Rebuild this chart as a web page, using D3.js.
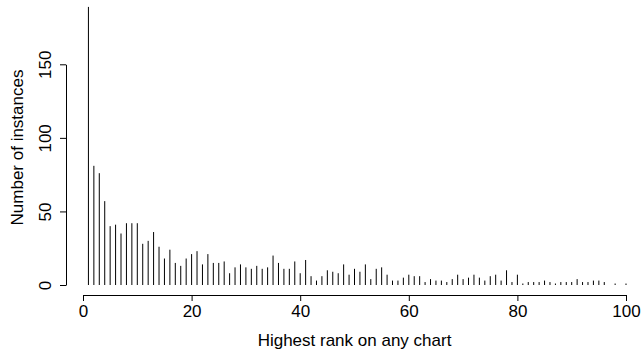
<!DOCTYPE html>
<html>
<head>
<meta charset="utf-8">
<script src="https://cdn.jsdelivr.net/npm/d3@7"></script>
<style>
  html, body { margin: 0; padding: 0; background: #fff; }
  svg { display: block; font-family: "Liberation Sans", Arial, sans-serif; }
</style>
</head>
<body>
<svg id="chart" width="641" height="353"></svg>
<script>
// ranks 1..100
const ranks = d3.range(1, 101);
const counts = [
  189, 81, 76, 57, 40, 41, 35, 42, 42, 42,
  28, 30, 36, 26, 18, 24, 15, 13, 18, 21,
  23, 14, 21, 15, 15, 16, 8, 12, 14, 12,
  11, 13, 11, 12, 20, 15, 11, 11, 16, 8,
  17, 6, 3, 6, 10, 9, 8, 14, 7, 11,
  9, 14, 4, 11, 12, 7, 3, 3, 5, 7,
  6, 6, 2, 4, 3, 3, 2, 4, 7, 4,
  5, 7, 5, 3, 6, 7, 3, 10, 2, 7,
  1, 2, 2, 2, 3, 2, 1, 2, 2, 2,
  4, 2, 2, 3, 3, 2, 0, 1, 0, 1
];
const xTicks = [0, 20, 40, 60, 80, 100];
const yTicks = [0, 50, 100, 150];
const xTitle = "Highest rank on any chart";
const yTitle = "Number of instances";

const svg = d3.select("#chart");
const fontSize = 17;

const x = d3.scaleLinear().domain([0, 100]).range([83, 626]);
const y = d3.scaleLinear().domain([0, 150]).range([285, 64.3]);

const xAxisY = 295;
const yAxisX = 66;

// bars (type = "h")
svg.append("g")
  .selectAll("line")
  .data(ranks.map((r, i) => ({ r, v: counts[i] })).filter(d => d.v > 0))
  .join("line")
  .attr("x1", d => x(d.r)).attr("x2", d => x(d.r))
  .attr("y1", y(0)).attr("y2", d => y(d.v))
  .attr("stroke", "#000").attr("stroke-width", 1);

// x axis
const gx = svg.append("g")
  .attr("transform", `translate(0,${xAxisY})`)
  .call(d3.axisBottom(x).tickValues(xTicks).tickSize(6).tickSizeOuter(0).tickPadding(4).tickFormat(d3.format("d")));
gx.selectAll("path, line").attr("stroke", "#000");
gx.selectAll("text").attr("font-size", fontSize).attr("fill", "#000")
  .attr("font-family", "Liberation Sans, Arial, sans-serif");

// y axis
const gy = svg.append("g")
  .attr("transform", `translate(${yAxisX},0)`)
  .call(d3.axisLeft(y).tickValues(yTicks).tickSize(6).tickSizeOuter(0).tickFormat(d3.format("d")));
gy.selectAll("path, line").attr("stroke", "#000");
gy.selectAll("text")
  .attr("font-size", fontSize).attr("fill", "#000")
  .attr("font-family", "Liberation Sans, Arial, sans-serif")
  .attr("text-anchor", "middle")
  .attr("x", null).attr("dy", null)
  .attr("transform", "translate(-15,0) rotate(-90)");

// titles
svg.append("text")
  .attr("x", (x(0) + x(100)) / 2).attr("y", 346)
  .attr("text-anchor", "middle")
  .attr("font-size", fontSize).attr("fill", "#000")
  .text(xTitle);

svg.append("text")
  .attr("transform", `translate(23,${(y(0) + 6) / 2 + 2}) rotate(-90)`)
  .attr("text-anchor", "middle")
  .attr("font-size", fontSize).attr("fill", "#000")
  .text(yTitle);
</script>
</body>
</html>
